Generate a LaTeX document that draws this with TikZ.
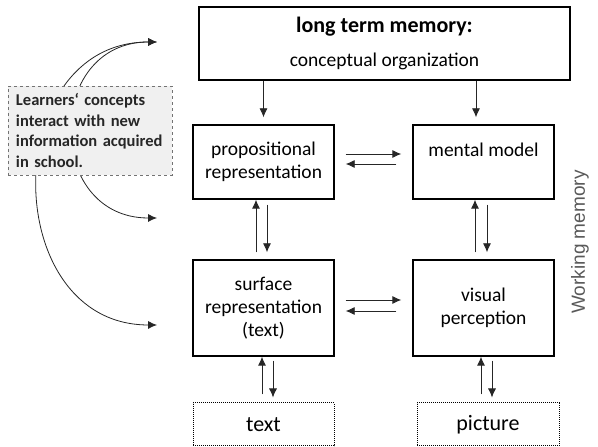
\documentclass[tikz,border=0pt]{standalone}
\usepackage{fontspec}
\setmainfont{Carlito}
\newfontfamily\wmfont{Liberation Sans}
\usetikzlibrary{arrows.meta}
\definecolor{DarkGray}{rgb}{0.15,0.15,0.15}
\definecolor{NoteGray}{rgb}{0.94,0.94,0.94}

\begin{document}
\begin{tikzpicture}[x=1pt,y=1pt,
  box/.style={draw,line width=1.3pt,minimum width=141pt,align=center,inner sep=0pt,
    font=\fontsize{19.5}{23}\selectfont},
  inbox/.style={box,line width=1pt,densely dotted,font=\fontsize{22}{26}\selectfont},
  arr/.style={-{Latex[length=9pt,width=8pt]},line width=0.8pt,DarkGray},
  twoarr/.style={arr,{Latex[length=9pt,width=8pt]}-{Latex[length=9pt,width=8pt]}}]
\useasboundingbox (0,0) rectangle (598,447);

\node[box,minimum width=371pt,minimum height=73pt] (ltm) at (384.5,403.5)
  {{\fontsize{22}{26}\selectfont\bfseries long term memory:}\\[11pt]conceptual organization};
\node[box,minimum height=74pt] (prop) at (263.5,285) {propositional\\representation};
\node[box,minimum height=74pt] (mental) at (483.5,285) {mental model\\[-5pt]\strut};
\node[box,minimum height=96pt] (surf) at (263.5,139) {surface\\representation\\(text)};
\node[box,minimum height=96pt] (visual) at (483.5,139) {visual\\perception};
\node[inbox,minimum height=43pt] (textin) at (263.5,22.5) {text};
\node[inbox,minimum width=142pt,minimum height=43pt] (picin) at (488,22.5) {picture};

\node[rotate=90,text=black!65,font=\wmfont\fontsize{19}{23}\selectfont] (wm) at (580,205) {Working memory};

\coordinate (ltmin) at (157,405);
\coordinate (propin) at (157,229);
\coordinate (surfin) at (157,122);

\draw[twoarr] (ltmin) to[out=180,in=180,looseness=1.44] (surfin);
\draw[twoarr] (ltmin) to[out=180,in=180,looseness=1.64] (propin);

\node[draw=black!55,dashed,fill=NoteGray,text=DarkGray,align=left,text width=148pt,inner xsep=8pt,
  minimum height=89pt,font=\fontsize{16.5}{20.7}\selectfont\bfseries] (learn) at (90,316.5)
  {Learners‘ concepts\\interact with new\\information acquired\\in school.};

\draw[arr,shorten >=7pt] (ltm.south -| prop.north) -- (prop.north);
\draw[arr,shorten >=7pt] ([xshift=-7.5pt]ltm.south -| mental.north) -- ([xshift=-7.5pt]mental.north);

\draw[arr,shorten <=11pt,shorten >=11pt] ([yshift=8pt]prop.east) -- ([yshift=8pt]mental.west);
\draw[arr,shorten <=16pt,shorten >=11pt] ([yshift=-2pt]mental.west) -- ([yshift=-2pt]prop.east);
\draw[arr,shorten <=11pt,shorten >=11pt] ([yshift=8pt]surf.east) -- ([yshift=8pt]visual.west);
\draw[arr,shorten <=16pt,shorten >=11pt] ([yshift=-3pt]visual.west) -- ([yshift=-3pt]surf.east);

\draw[arr,shorten <=7pt] ([xshift=-7.5pt]surf.north) -- ([xshift=-7.5pt]prop.south);
\draw[arr,shorten <=5pt,shorten >=7pt] ([xshift=3.5pt]prop.south) -- ([xshift=3.5pt]surf.north);
\draw[arr,shorten <=7pt] ([xshift=-8.5pt]visual.north) -- ([xshift=-8.5pt]mental.south);
\draw[arr,shorten <=5pt,shorten >=7pt] ([xshift=3.5pt]mental.south) -- ([xshift=3.5pt]visual.north);

\draw[arr,shorten <=8pt] ([xshift=-1.5pt]textin.north) -- ([xshift=-1.5pt]surf.south);
\draw[arr,shorten <=4pt,shorten >=5pt] ([xshift=9.5pt]surf.south) -- ([xshift=9.5pt]textin.north);
\draw[arr,shorten <=8pt] ([xshift=-7pt]picin.north) -- ([xshift=-7pt]picin.north |- visual.south);
\draw[arr,shorten <=4pt,shorten >=5pt] ([xshift=4pt]picin.north |- visual.south) -- ([xshift=4pt]picin.north);

\end{tikzpicture}
\end{document}
